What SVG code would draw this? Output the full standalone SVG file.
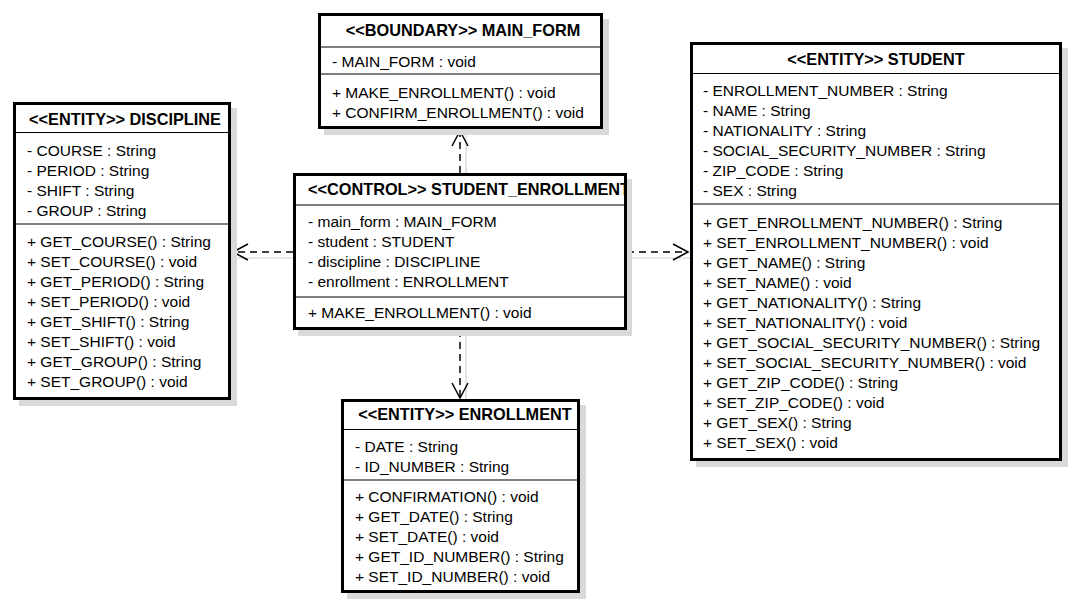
<svg xmlns="http://www.w3.org/2000/svg" width="1076" height="608" viewBox="0 0 1076 608">
<style>
.shadow{fill:#d9d9d9;stroke:none}
.box{fill:#fff;stroke:#000;stroke-width:3}
.sep{stroke:#000;stroke-width:1.2}
.t{font-family:"Liberation Sans",Arial,sans-serif;font-size:15.5px;fill:#000}
.h{font-family:"Liberation Sans",Arial,sans-serif;font-size:16.3px;font-weight:bold;fill:#000}
.dep{fill:none;stroke:#000;stroke-width:1.5;stroke-dasharray:7,5}
.ghost{fill:none;stroke:#d0d0d0;stroke-width:1.2}
</style>
<defs>
<marker id="open" markerUnits="userSpaceOnUse" markerWidth="20" markerHeight="20" viewBox="-17 -10 19 20" refX="0" refY="0" orient="auto">
<path d="M-15,-8 L0,0 L-15,8" fill="none" stroke="#000" stroke-width="1.5"/>
</marker>
<clipPath id="ctlclip"><rect x="294" y="174" width="331" height="155"/></clipPath>
</defs>
<rect width="1076" height="608" fill="#fff"/>

<g id="connectors">
<line class="ghost" x1="466" y1="135" x2="466" y2="173"/>
<line class="ghost" x1="466" y1="336" x2="466" y2="400"/>
<line class="ghost" x1="237" y1="258" x2="293" y2="258"/>
<line class="ghost" x1="627" y1="258" x2="690" y2="258"/>
<line class="dep" x1="460" y1="173" x2="460" y2="131" marker-end="url(#open)"/>
<line class="dep" x1="460" y1="330" x2="460" y2="398" marker-end="url(#open)"/>
<line class="dep" x1="293" y1="252" x2="233" y2="252" marker-end="url(#open)"/>
<line class="dep" x1="627" y1="252" x2="688" y2="252" marker-end="url(#open)"/>
</g>

<g id="main_form">
<rect class="shadow" x="324" y="19" width="285" height="116"/>
<rect class="box" x="319.5" y="14.5" width="282" height="113"/>
<line class="sep" x1="320" y1="47" x2="601" y2="47"/>
<line class="sep" x1="320" y1="74" x2="601" y2="74"/>
<text class="h" x="463" y="36" text-anchor="middle">&lt;&lt;BOUNDARY&gt;&gt; MAIN_FORM</text>
<text class="t" x="332" y="66.5">- MAIN_FORM : void</text>
<text class="t" x="332" y="97.5">+ MAKE_ENROLLMENT() : void</text>
<text class="t" x="332" y="117.5">+ CONFIRM_ENROLLMENT() : void</text>
</g>

<g id="discipline">
<rect class="shadow" x="19" y="108" width="218" height="298"/>
<rect class="box" x="14.5" y="103.5" width="215" height="295"/>
<line class="sep" x1="15" y1="132.5" x2="229" y2="132.5"/>
<line class="sep" x1="15" y1="224" x2="229" y2="224"/>
<text class="h" x="125" y="125" text-anchor="middle">&lt;&lt;ENTITY&gt;&gt; DISCIPLINE</text>
<text class="t" x="27" y="155.5">- COURSE : String</text>
<text class="t" x="27" y="175.5">- PERIOD : String</text>
<text class="t" x="27" y="195.5">- SHIFT : String</text>
<text class="t" x="27" y="216">- GROUP : String</text>
<text class="t" x="27" y="246.5">+ GET_COURSE() : String</text>
<text class="t" x="27" y="266.5">+ SET_COURSE() : void</text>
<text class="t" x="27" y="286.5">+ GET_PERIOD() : String</text>
<text class="t" x="27" y="306.5">+ SET_PERIOD() : void</text>
<text class="t" x="27" y="327">+ GET_SHIFT() : String</text>
<text class="t" x="27" y="347">+ SET_SHIFT() : void</text>
<text class="t" x="27" y="367">+ GET_GROUP() : String</text>
<text class="t" x="27" y="387">+ SET_GROUP() : void</text>
</g>

<g id="student_enrollment">
<rect class="shadow" x="298" y="179" width="334" height="157"/>
<rect class="box" x="294.5" y="174.5" width="331" height="154"/>
<line class="sep" x1="295" y1="205" x2="625" y2="205"/>
<line class="sep" x1="295" y1="297" x2="625" y2="297"/>
<g clip-path="url(#ctlclip)">
<text class="h" x="308" y="195">&lt;&lt;CONTROL&gt;&gt; STUDENT_ENROLLMENT</text>
</g>
<text class="t" x="308" y="226.5">- main_form : MAIN_FORM</text>
<text class="t" x="308" y="246.5">- student : STUDENT</text>
<text class="t" x="308" y="266.5">- discipline : DISCIPLINE</text>
<text class="t" x="308" y="286.5">- enrollment : ENROLLMENT</text>
<text class="t" x="308" y="317.5">+ MAKE_ENROLLMENT() : void</text>
</g>

<g id="student">
<rect class="shadow" x="696" y="48" width="372" height="419"/>
<rect class="box" x="691.5" y="43.5" width="369" height="416"/>
<line class="sep" x1="692" y1="73.5" x2="1060" y2="73.5"/>
<line class="sep" x1="692" y1="204" x2="1060" y2="204"/>
<text class="h" x="876" y="65" text-anchor="middle">&lt;&lt;ENTITY&gt;&gt; STUDENT</text>
<text class="t" x="703" y="95.5">- ENROLLMENT_NUMBER : String</text>
<text class="t" x="703" y="115.5">- NAME : String</text>
<text class="t" x="703" y="135.5">- NATIONALITY : String</text>
<text class="t" x="703" y="156">- SOCIAL_SECURITY_NUMBER : String</text>
<text class="t" x="703" y="176">- ZIP_CODE : String</text>
<text class="t" x="703" y="196">- SEX : String</text>
<text class="t" x="703" y="227.5">+ GET_ENROLLMENT_NUMBER() : String</text>
<text class="t" x="703" y="247.5">+ SET_ENROLLMENT_NUMBER() : void</text>
<text class="t" x="703" y="267.5">+ GET_NAME() : String</text>
<text class="t" x="703" y="287.5">+ SET_NAME() : void</text>
<text class="t" x="703" y="307.5">+ GET_NATIONALITY() : String</text>
<text class="t" x="703" y="327.5">+ SET_NATIONALITY() : void</text>
<text class="t" x="703" y="347.5">+ GET_SOCIAL_SECURITY_NUMBER() : String</text>
<text class="t" x="703" y="367.5">+ SET_SOCIAL_SECURITY_NUMBER() : void</text>
<text class="t" x="703" y="388">+ GET_ZIP_CODE() : String</text>
<text class="t" x="703" y="408">+ SET_ZIP_CODE() : void</text>
<text class="t" x="703" y="428">+ GET_SEX() : String</text>
<text class="t" x="703" y="448">+ SET_SEX() : void</text>
</g>

<g id="enrollment">
<rect class="shadow" x="347" y="405" width="239" height="194"/>
<rect class="box" x="342.5" y="400.5" width="236" height="191"/>
<line class="sep" x1="343" y1="429.5" x2="578" y2="429.5"/>
<line class="sep" x1="343" y1="480" x2="578" y2="480"/>
<text class="h" x="465" y="420" text-anchor="middle">&lt;&lt;ENTITY&gt;&gt; ENROLLMENT</text>
<text class="t" x="355" y="451.5">- DATE : String</text>
<text class="t" x="355" y="471.5">- ID_NUMBER : String</text>
<text class="t" x="355" y="501.5">+ CONFIRMATION() : void</text>
<text class="t" x="355" y="522">+ GET_DATE() : String</text>
<text class="t" x="355" y="542">+ SET_DATE() : void</text>
<text class="t" x="355" y="562">+ GET_ID_NUMBER() : String</text>
<text class="t" x="355" y="582">+ SET_ID_NUMBER() : void</text>
</g>
</svg>
